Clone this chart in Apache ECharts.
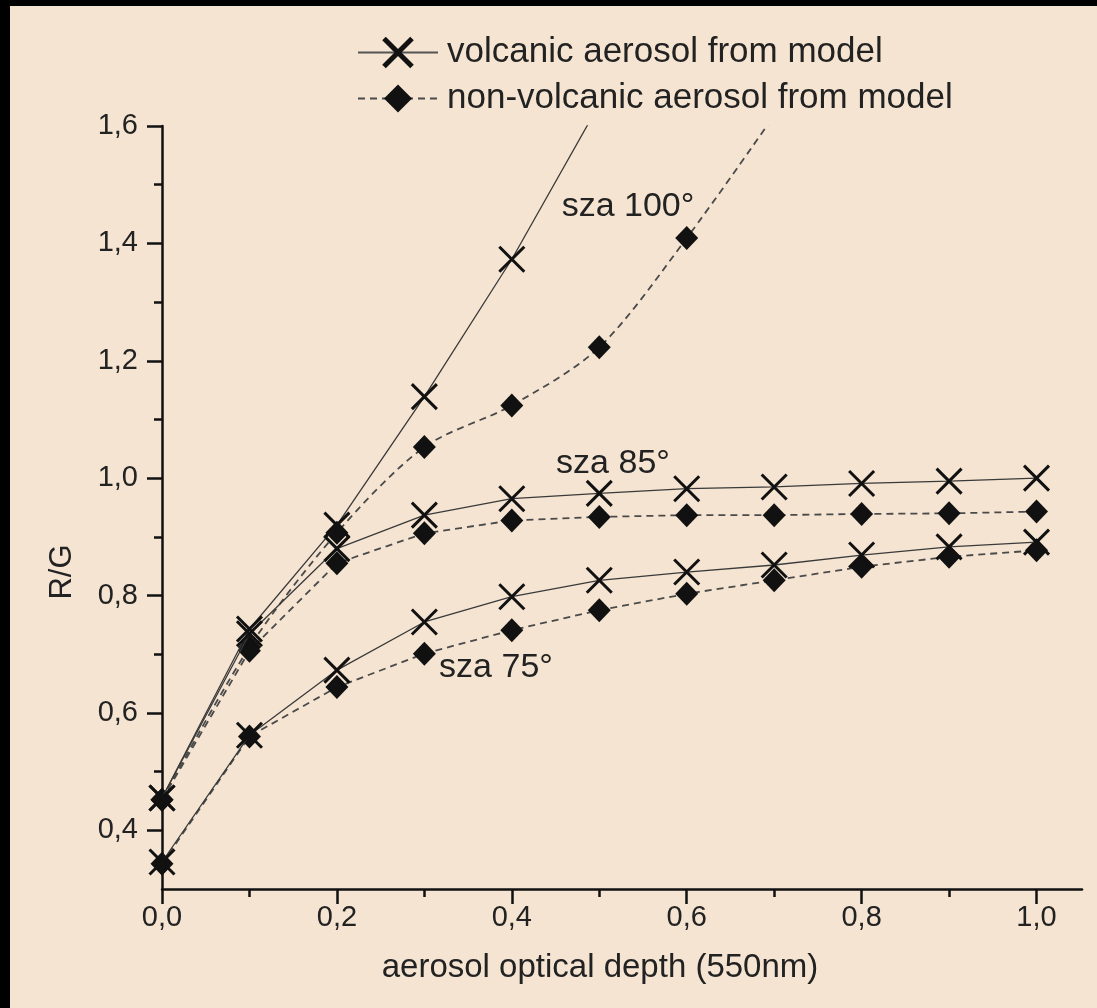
<!DOCTYPE html>
<html>
<head>
<meta charset="utf-8">
<script src="https://cdn.jsdelivr.net/npm/echarts@6/dist/echarts.min.js"></script>
<style>
  html, body { margin: 0; padding: 0; background: #f4e4d1; }
  #chart { width: 1097px; height: 1008px; }
</style>
</head>
<body>
<div id="chart"></div>
<script>
// aerosol optical depth values (x)
var aod = [0, 0.1, 0.2, 0.3, 0.4, 0.5, 0.6, 0.7, 0.8, 0.9, 1.0];

// R/G, one list per curve
var volc100 = [0.455, 0.743, 0.920, 1.139, 1.373, 1.637];
var nonVolc100 = [0.452, 0.712, 0.907, 1.053, 1.124, 1.223, 1.409, 1.618];
var volc85 = [0.455, 0.735, 0.880, 0.937, 0.965, 0.974, 0.982, 0.985, 0.991, 0.995, 1.000];
var nonVolc85 = [0.452, 0.706, 0.855, 0.906, 0.928, 0.934, 0.937, 0.937, 0.939, 0.940, 0.943];
var volc75 = [0.346, 0.562, 0.673, 0.755, 0.798, 0.826, 0.840, 0.852, 0.869, 0.883, 0.891];
var nonVolc75 = [0.343, 0.560, 0.644, 0.701, 0.741, 0.775, 0.803, 0.826, 0.849, 0.866, 0.877];

// ticks
var xLabelTicks = [0, 0.2, 0.4, 0.6, 0.8, 1.0];
var xMinorTicks = [0.1, 0.3, 0.5, 0.7, 0.9];
var yLabelTicks = [0.4, 0.6, 0.8, 1.0, 1.2, 1.4, 1.6];
var yMinorTicks = [0.5, 0.7, 0.9, 1.1, 1.3, 1.5];

var VOLC = 'volcanic aerosol from model';
var NONV = 'non-volcanic aerosol from model';
var FONT = '"Liberation Sans", Arial, Helvetica, sans-serif';
var crossPath = 'path://M0,0L10,10M10,0L0,10';

function pairs(vals) {
    return vals.map(function (v, i) { return [aod[i], v]; });
}
function comma(v) {
    return v.toFixed(1).replace('.', ',');
}

function volcSeries(vals) {
    return {
        name: VOLC,
        type: 'line',
        data: pairs(vals),
        symbol: crossPath,
        symbolSize: 25,
        lineStyle: { color: '#3a3a3a', width: 1.3 },
        itemStyle: { color: 'rgba(0,0,0,0)', borderColor: '#111', borderWidth: 3 },
        z: 3
    };
}
function nonVolcSeries(vals, smooth) {
    return {
        name: NONV,
        type: 'line',
        data: pairs(vals),
        smooth: smooth || false,
        symbol: 'diamond',
        symbolSize: [23, 24],
        lineStyle: { color: '#4a4a4a', width: 1.8, type: [7, 5] },
        itemStyle: { color: '#111' },
        z: 2
    };
}

var grid = { left: 162, top: 126, right: 15, bottom: 119, containLabel: false };
var axisLine = { show: true, lineStyle: { color: '#111', width: 2.5 } };

var chart = echarts.init(document.getElementById('chart'));

var option = {
    backgroundColor: '#f4e4d1',
    animation: false,
    grid: [grid, Object.assign({}, grid)],
    legend: {
        left: 352,
        top: 30,
        orient: 'vertical',
        itemWidth: 80,
        itemHeight: 35,
        itemGap: 11,
        data: [
            { name: VOLC, itemStyle: { borderWidth: 5 }, lineStyle: { width: 2, color: '#555' } },
            { name: NONV }
        ],
        textStyle: { fontSize: 35, color: '#222', fontFamily: FONT, padding: [0, 0, 0, 4] }
    },
    xAxis: [{
        type: 'value',
        gridIndex: 0,
        min: 0,
        max: 1.052,
        axisLine: axisLine,
        axisTick: { show: true, customValues: xLabelTicks, length: 15, lineStyle: { color: '#111', width: 2.5 } },
        axisLabel: {
            customValues: xLabelTicks, margin: 14,
            fontSize: 29, color: '#222', fontFamily: FONT,
            formatter: comma
        },
        splitLine: { show: false }
    }, {
        type: 'value',
        gridIndex: 1,
        min: 0,
        max: 1.052,
        axisLine: { show: false },
        axisTick: { show: true, customValues: xMinorTicks, length: 8, lineStyle: { color: '#111', width: 2.5 } },
        axisLabel: { show: false },
        splitLine: { show: false }
    }],
    yAxis: [{
        type: 'value',
        gridIndex: 0,
        min: 0.3,
        max: 1.6,
        axisLine: axisLine,
        axisTick: { show: true, customValues: yLabelTicks, length: 15, lineStyle: { color: '#111', width: 2.5 } },
        axisLabel: {
            customValues: yLabelTicks, margin: 24,
            fontSize: 29, color: '#222', fontFamily: FONT,
            formatter: comma
        },
        splitLine: { show: false }
    }, {
        type: 'value',
        gridIndex: 1,
        min: 0.3,
        max: 1.6,
        axisLine: { show: false },
        axisTick: { show: true, customValues: yMinorTicks, length: 8, lineStyle: { color: '#111', width: 2.5 } },
        axisLabel: { show: false },
        splitLine: { show: false }
    }],
    series: [
        volcSeries(volc100),
        nonVolcSeries(nonVolc100, 0.3),
        volcSeries(volc85),
        nonVolcSeries(nonVolc85),
        volcSeries(volc75),
        nonVolcSeries(nonVolc75)
    ],
    graphic: [
        // dark frame edges of the scanned figure
        { type: 'rect', shape: { x: 0, y: 0, width: 1097, height: 6 }, style: { fill: '#000' }, silent: true },
        { type: 'rect', shape: { x: 0, y: 0, width: 10, height: 1008 }, style: { fill: '#000' }, silent: true },
        // curve annotations
        { type: 'text', x: 628, y: 207, style: { text: 'sza 100°', font: '34px ' + FONT, fill: '#222', align: 'center', verticalAlign: 'middle' } },
        { type: 'text', x: 613, y: 464, style: { text: 'sza 85°', font: '34px ' + FONT, fill: '#222', align: 'center', verticalAlign: 'middle' } },
        { type: 'text', x: 496, y: 668, style: { text: 'sza 75°', font: '34px ' + FONT, fill: '#222', align: 'center', verticalAlign: 'middle' } },
        // axis titles
        { type: 'text', x: 600, y: 968, style: { text: 'aerosol optical depth (550nm)', font: '33px ' + FONT, fill: '#222', align: 'center', verticalAlign: 'middle' } },
        { type: 'text', x: 62, y: 572, rotation: Math.PI / 2, style: { text: 'R/G', font: '31px ' + FONT, fill: '#222', align: 'center', verticalAlign: 'middle' } }
    ]
};

chart.setOption(option);
</script>
</body>
</html>
